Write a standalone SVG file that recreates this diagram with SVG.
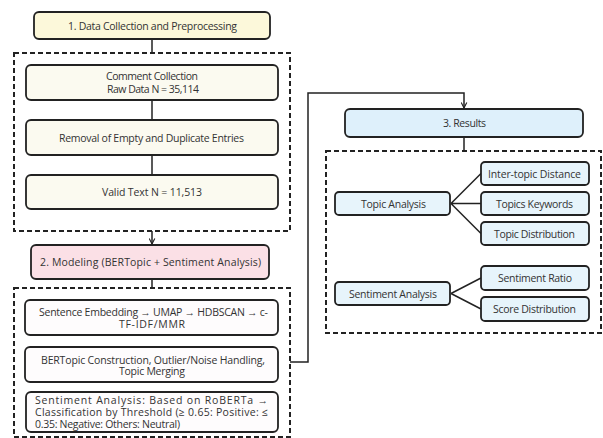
<svg xmlns="http://www.w3.org/2000/svg" width="603" height="438" viewBox="0 0 603 438">
<defs>
<style>
.bx{stroke:#222;stroke-width:1.8}
.y1{fill:#fcf8da}.y2{fill:#fbfaf0}
.p1{fill:#fbe0e6}.p2{fill:#fefcfd}
.b1{fill:#def0fb}.b2{fill:#e7f4fb}
.dash{fill:none;stroke:#222;stroke-width:2;stroke-dasharray:5 3}
.ln{fill:none;stroke:#222;stroke-width:1.5}
text{font-family:"Open Sans","Noto Sans",sans-serif;font-size:10.5px;fill:#333;text-anchor:middle}
.l{text-anchor:start}
</style>
<marker id="arr" viewBox="0 0 10 10" refX="9" refY="5" markerWidth="7" markerHeight="7" orient="auto" markerUnits="userSpaceOnUse">
<path d="M1,1 L9,5 L1,9" fill="none" stroke="#222" stroke-width="1.6"/>
</marker>
</defs>
<rect width="603" height="438" fill="#fff"/>

<g id="section1">
<rect class="dash" x="14" y="53" width="276" height="178"/>
</g>
<g id="section2">
<rect class="dash" x="14" y="288" width="276" height="149"/>
</g>
<g id="section3">
<rect class="dash" x="326" y="151" width="275" height="182"/>
</g>

<g id="connectors">
<path class="ln" d="M152 39 V53"/>
<path class="ln" d="M152 100 V120"/>
<path class="ln" d="M152 155 V175"/>
<path class="ln" d="M152 231 V244" marker-end="url(#arr)"/>
<path class="ln" d="M152 279 V288"/>
<path class="ln" d="M290 362 H308 V93 H464 V108" marker-end="url(#arr)"/>
<path class="ln" d="M464 137 V151"/>
<path class="ln" d="M451 203.5 L481 173.5 M451 203.5 L481 203.5 M451 203.5 L481 233.5"/>
<path class="ln" d="M451 293.5 L481 278 M451 293.5 L481 309"/>
</g>

<g id="n1">
<rect class="bx y1" x="34" y="12" width="236" height="27" rx="5"/>
<text x="152.5" y="29.5" textLength="169" lengthAdjust="spacing">1. Data Collection and Preprocessing</text>
</g>
<g id="n1a">
<rect class="bx y2" x="26" y="65" width="252" height="35" rx="5"/>
<text x="152" y="80" textLength="92" lengthAdjust="spacing">Comment Collection</text>
<text x="153" y="93" textLength="92" lengthAdjust="spacing">Raw Data N = 35,114</text>
</g>
<g id="n1b">
<rect class="bx y2" x="26" y="120" width="252" height="35" rx="5"/>
<text x="151.5" y="141.5" textLength="185" lengthAdjust="spacing">Removal of Empty and Duplicate Entries</text>
</g>
<g id="n1c">
<rect class="bx y2" x="26" y="175" width="252" height="34" rx="5"/>
<text x="152" y="196" textLength="100" lengthAdjust="spacing">Valid Text N = 11,513</text>
</g>

<g id="n2">
<rect class="bx p1" x="31" y="245" width="238" height="34" rx="5"/>
<text x="150.5" y="266" textLength="221" lengthAdjust="spacing">2. Modeling (BERTopic + Sentiment Analysis)</text>
</g>
<g id="n2a">
<rect class="bx p2" x="25" y="300" width="253" height="35" rx="5"/>
<text x="153.5" y="316" textLength="229" lengthAdjust="spacing">Sentence Embedding → UMAP → HDBSCAN → c-</text>
<text x="152" y="327.5" textLength="66" lengthAdjust="spacing">TF-IDF/MMR</text>
</g>
<g id="n2b">
<rect class="bx p2" x="25" y="347" width="253" height="35" rx="5"/>
<text x="153" y="363.5" textLength="224" lengthAdjust="spacing">BERTopic Construction, Outlier/Noise Handling,</text>
<text x="152" y="375" textLength="66" lengthAdjust="spacing">Topic Merging</text>
</g>
<g id="n2c">
<rect class="bx p2" x="26" y="392" width="252" height="40" rx="5"/>
<text class="l" x="35" y="404" textLength="233" lengthAdjust="spacing">Sentiment Analysis: Based on RoBERTa →</text>
<text class="l" x="35" y="416" textLength="233" lengthAdjust="spacing">Classification by Threshold (≥ 0.65: Positive: ≤</text>
<text class="l" x="35" y="427.5" textLength="145" lengthAdjust="spacing">0.35: Negative: Others: Neutral)</text>
</g>

<g id="n3">
<rect class="bx b1" x="345" y="109" width="238" height="28" rx="5"/>
<text x="464.5" y="127" textLength="43" lengthAdjust="spacing">3. Results</text>
</g>
<g id="topic">
<rect class="bx b2" x="335" y="192" width="115" height="23" rx="4"/>
<text x="393.5" y="207.5" textLength="65" lengthAdjust="spacing">Topic Analysis</text>
</g>
<g id="t1">
<rect class="bx b2" x="481" y="162" width="108" height="23" rx="4"/>
<text x="534.5" y="177.5" textLength="93" lengthAdjust="spacing">Inter-topic Distance</text>
</g>
<g id="t2">
<rect class="bx b2" x="481" y="192" width="108" height="23" rx="4"/>
<text x="534.5" y="207.5" textLength="77" lengthAdjust="spacing">Topics Keywords</text>
</g>
<g id="t3">
<rect class="bx b2" x="481" y="222" width="108" height="23" rx="4"/>
<text x="534.5" y="237.5" textLength="81" lengthAdjust="spacing">Topic Distribution</text>
</g>
<g id="sent">
<rect class="bx b2" x="335" y="282" width="115" height="23" rx="4"/>
<text x="393" y="297.5" textLength="88" lengthAdjust="spacing">Sentiment Analysis</text>
</g>
<g id="s1">
<rect class="bx b2" x="481" y="266" width="108" height="24" rx="4"/>
<text x="535" y="282" textLength="74" lengthAdjust="spacing">Sentiment Ratio</text>
</g>
<g id="s2">
<rect class="bx b2" x="481" y="297" width="108" height="24" rx="4"/>
<text x="534.5" y="313" textLength="83" lengthAdjust="spacing">Score Distribution</text>
</g>
</svg>
